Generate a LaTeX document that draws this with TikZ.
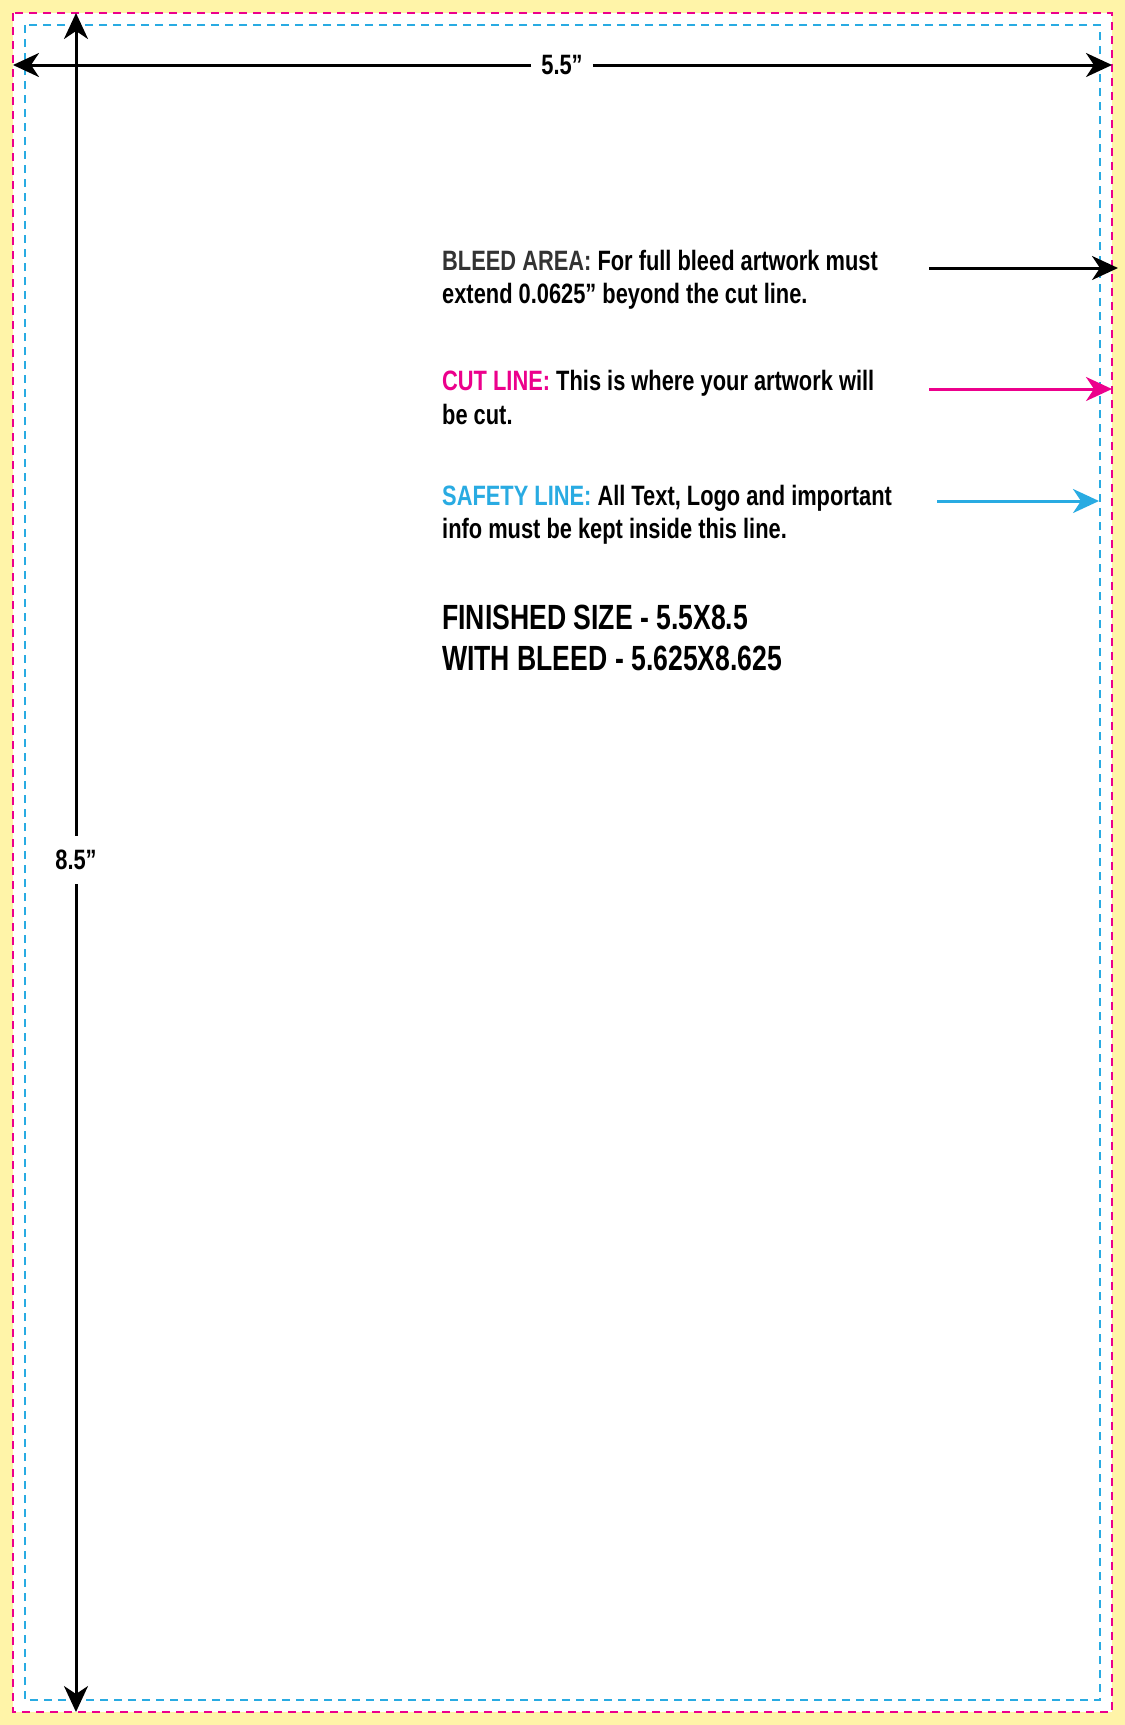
\documentclass[tikz,border=0pt]{standalone}
\usepackage{fontspec}
\setmainfont{Liberation Sans}[FakeStretch=0.78]
\newfontfamily\bigfont{Liberation Sans}[FakeStretch=0.76]
\usetikzlibrary{arrows.meta}
\definecolor{mag}{HTML}{EC008C}
\definecolor{cya}{HTML}{29ABE2}
\definecolor{yel}{HTML}{FFF4A8}
\tikzset{dim/.style={line width=3pt,-{Stealth[length=26pt,width=24pt,inset=8pt]}},
 txt/.style={anchor=base west,inner sep=0pt,font=\bfseries\fontsize{28}{33}\selectfont},
 big/.style={anchor=base west,inner sep=0pt,font=\bigfont\bfseries\fontsize{35}{44}\selectfont}}
\begin{document}
\begin{tikzpicture}[x=1pt,y=-1pt]
\fill[yel] (0,0) rectangle (1125,1725);
\fill[white] (13,13) rectangle (1112,1712);
\draw[mag,line width=2pt,dash pattern=on 8pt off 6pt] (13,13) rectangle (1112,1712);
\draw[cya,line width=2pt,dash pattern=on 8pt off 6pt] (25,25) rectangle (1100,1700);
\coordinate (hl) at (13,65); \coordinate (hr) at (1112,65);
\coordinate (vt) at (76,13); \coordinate (vb) at (76,1712);
\node[txt,anchor=center,fill=white,inner xsep=10pt,inner ysep=10pt] (w) at (562,65) {5.5”};
\draw[dim] (w.west) -- (hl);
\draw[dim] (w.east) -- (hr);
\node[txt,anchor=center,fill=white,inner xsep=2pt,inner ysep=14pt] (h) at (76,860) {8.5”};
\draw[dim] (h.north) -- (vt);
\draw[dim] (h.south) -- (vb);
\node[txt] (b1) at (442,270) {\textcolor[HTML]{333333}{BLEED AREA:}\ For full bleed artwork must};
\node[txt] (b2) at (442,303) {extend 0.0625” beyond the cut line.};
\node[txt] (c1) at (442,390) {\textcolor{mag}{CUT LINE:}\ This is where your artwork will};
\node[txt] (c2) at (442,424) {be cut.};
\node[txt] (s1) at (442,505) {\textcolor{cya}{SAFETY LINE:}\ All Text, Logo and important};
\node[txt] (s2) at (442,538) {info must be kept inside this line.};
\node[big] (f1) at (442,629) {FINISHED SIZE - 5.5X8.5};
\node[big] (f2) at (442,670) {WITH BLEED - 5.625X8.625};
\coordinate (a1s) at (929,268); \coordinate (a1e) at (1118,268);
\coordinate (a2s) at (929,389); \coordinate (a2e) at (1112,389);
\coordinate (a3s) at (937,501); \coordinate (a3e) at (1099,501);
\draw[dim] (a1s) -- (a1e);
\draw[dim,mag] (a2s) -- (a2e);
\draw[dim,cya] (a3s) -- (a3e);
\end{tikzpicture}
\end{document}
